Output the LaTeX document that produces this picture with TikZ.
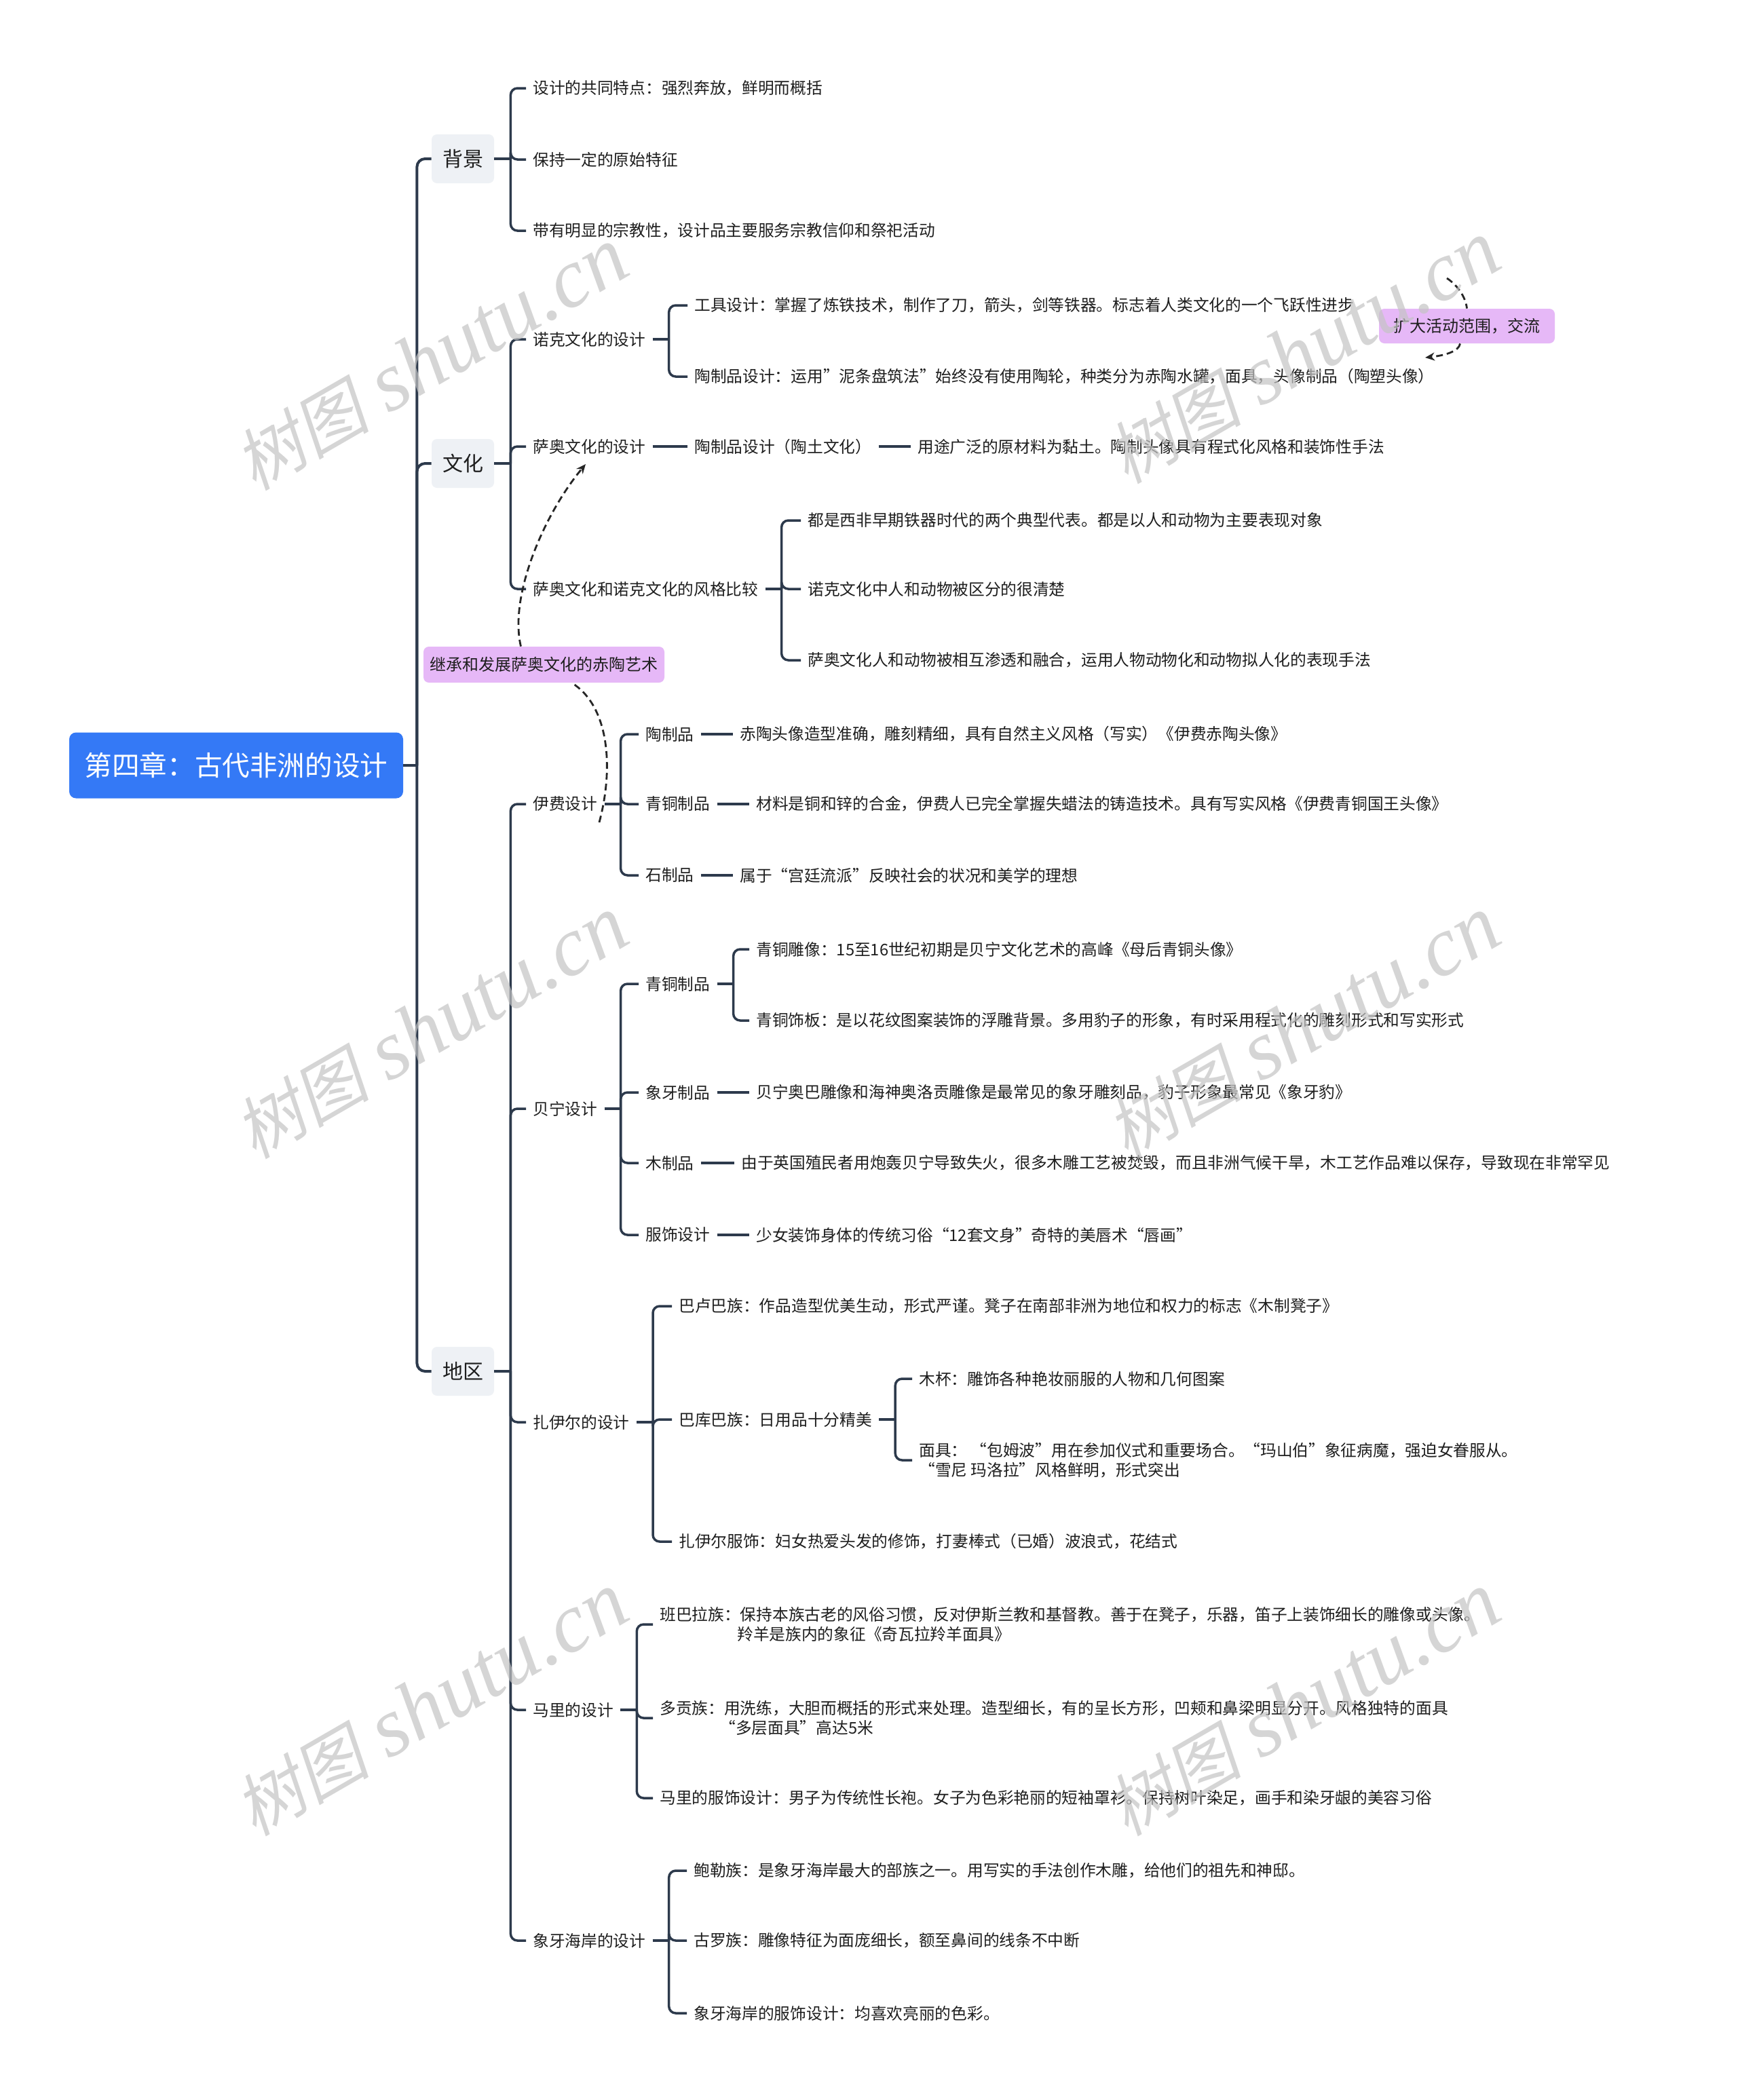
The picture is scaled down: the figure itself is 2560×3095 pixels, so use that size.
\documentclass[tikz,border=0pt]{standalone}
\usepackage{fontspec}
\setmainfont{Noto Sans CJK SC}
\newfontfamily\wmcjk[FakeSlant=0.2]{Noto Sans CJK SC}
\newfontfamily\wmlat{Liberation Serif}
\usetikzlibrary{arrows.meta,calc}
\definecolor{lc}{HTML}{2D3A4C}
\definecolor{rootc}{HTML}{3479F6}
\definecolor{pinkc}{HTML}{E6B8F7}
\definecolor{boxc}{HTML}{EEF1F5}
\definecolor{txtc}{HTML}{1E1E1E}
\definecolor{wmc}{HTML}{C4C4C4}
\tikzset{
 leaf/.style={anchor=west, inner xsep=5pt, inner ysep=3pt, font=\fontsize{11.85}{14.5}\selectfont, text=txtc, align=left},
 mainbox/.style={fill=boxc, rounded corners=4pt, minimum width=46pt, minimum height=36pt, font=\fontsize{15}{18}\selectfont, text=txtc, inner sep=0pt},
 rootbox/.style={fill=rootc, rounded corners=5pt, minimum width=246pt, minimum height=48.5pt, font=\fontsize{20.3}{24}\selectfont, text=white, inner sep=0pt},
 note/.style={fill=pinkc, rounded corners=4pt, font=\fontsize{12}{14}\selectfont, text=txtc, inner sep=0pt},
 conn/.style={draw=lc, line width=1.75pt, rounded corners=5pt},
 trunkln/.style={draw=lc, line width=2pt, rounded corners=6pt},
 rel/.style={draw=black!85, line width=1.4pt, dash pattern=on 5pt off 3pt},
 relarrow/.style={rel, -{Stealth[length=7pt,width=6pt]}},
 wm/.style={text=wmc, opacity=0.7, inner sep=0pt, rotate=30}
}
\newcommand\mybranch[2]{\draw[conn] (#1.east) -- ++(24,0) coordinate (#1j); \foreach \c in {#2} {\draw[conn] (#1j) |- (\c.west);}}
\begin{document}
\begin{tikzpicture}[x=0.5pt,y=-0.5pt]
\fill[white] (0,0) rectangle (2560,3095);
\useasboundingbox (0,0) rectangle (2560,3095);

% root and main topics
\node[rootbox] (root) at (348,1128) {第四章：古代非洲的设计};
\node[mainbox] (bj) at (682,234) {背景};
\node[mainbox] (wh) at (682,683) {文化};
\node[mainbox] (dq) at (682,2021) {地区};

% 背景
\node[leaf] (bj1) at (775,130) {设计的共同特点：强烈奔放，鲜明而概括};
\node[leaf] (bj2) at (775,235) {保持一定的原始特征};
\node[leaf] (bj3) at (775,340) {带有明显的宗教性，设计品主要服务宗教信仰和祭祀活动};

% 文化
\node[leaf] (nk) at (775,500) {诺克文化的设计};
\node[leaf] (sa) at (775,658) {萨奥文化的设计};
\node[leaf] (fg) at (775,868) {萨奥文化和诺克文化的风格比较};
\node[leaf] (nk1) at (1013,450) {工具设计：掌握了炼铁技术，制作了刀，箭头，剑等铁器。标志着人类文化的一个飞跃性进步};
\node[leaf] (nk2) at (1013,555) {陶制品设计：运用”泥条盘筑法”始终没有使用陶轮，种类分为赤陶水罐，面具，头像制品（陶塑头像）};
\node[leaf] (sa1) at (1013,658) {陶制品设计（陶土文化）};
\node[leaf] (sa2) at (1342,658) {用途广泛的原材料为黏土。陶制头像具有程式化风格和装饰性手法};
\node[leaf] (fg1) at (1180,767) {都是西非早期铁器时代的两个典型代表。都是以人和动物为主要表现对象};
\node[leaf] (fg2) at (1180,868) {诺克文化中人和动物被区分的很清楚};
\node[leaf] (fg3) at (1180,973) {萨奥文化人和动物被相互渗透和融合，运用人物动物化和动物拟人化的表现手法};

% 伊费
\node[leaf] (yf) at (775,1185) {伊费设计};
\node[leaf] (yf1) at (941,1082) {陶制品};
\node[leaf] (yf2) at (941,1185) {青铜制品};
\node[leaf] (yf3) at (941,1290) {石制品};
\node[leaf] (yf1a) at (1080,1082) {赤陶头像造型准确，雕刻精细，具有自然主义风格（写实）《伊费赤陶头像》};
\node[leaf] (yf2a) at (1104,1185) {材料是铜和锌的合金，伊费人已完全掌握失蜡法的铸造技术。具有写实风格《伊费青铜国王头像》};
\node[leaf] (yf3a) at (1080,1290) {属于“宫廷流派”反映社会的状况和美学的理想};

% 贝宁
\node[leaf] (bn) at (775,1634) {贝宁设计};
\node[leaf] (bn1) at (941,1450) {青铜制品};
\node[leaf] (bn2) at (941,1610) {象牙制品};
\node[leaf] (bn3) at (941,1714) {木制品};
\node[leaf] (bn4) at (941,1820) {服饰设计};
\node[leaf] (bn1a) at (1104,1399) {青铜雕像：15至16世纪初期是贝宁文化艺术的高峰《母后青铜头像》};
\node[leaf] (bn1b) at (1104,1504) {青铜饰板：是以花纹图案装饰的浮雕背景。多用豹子的形象，有时采用程式化的雕刻形式和写实形式};
\node[leaf] (bn2a) at (1104,1610) {贝宁奥巴雕像和海神奥洛贡雕像是最常见的象牙雕刻品，豹子形象最常见《象牙豹》};
\node[leaf] (bn3a) at (1082,1714) {由于英国殖民者用炮轰贝宁导致失火，很多木雕工艺被焚毁，而且非洲气候干旱，木工艺作品难以保存，导致现在非常罕见};
\node[leaf] (bn4a) at (1104,1820) {少女装饰身体的传统习俗“12套文身”奇特的美唇术“唇画”};

% 扎伊尔
\node[leaf] (zy) at (775,2096) {扎伊尔的设计};
\node[leaf] (zy1) at (990,1925) {巴卢巴族：作品造型优美生动，形式严谨。凳子在南部非洲为地位和权力的标志《木制凳子》};
\node[leaf] (zy2) at (990,2092) {巴库巴族：日用品十分精美};
\node[leaf] (zy3) at (990,2272) {扎伊尔服饰：妇女热爱头发的修饰，打妻棒式（已婚）波浪式，花结式};
\node[leaf] (zy2a) at (1344,2032) {木杯：雕饰各种艳妆丽服的人物和几何图案};
\node[leaf] (zy2b) at (1344,2152) {面具： “包姆波”用在参加仪式和重要场合。“玛山伯”象征病魔，强迫女眷服从。\\“雪尼 玛洛拉”风格鲜明，形式突出};

% 马里
\node[leaf] (ml) at (775,2520) {马里的设计};
\node[leaf] (ml1) at (962,2394) {班巴拉族：保持本族古老的风俗习惯，反对伊斯兰教和基督教。善于在凳子，乐器，笛子上装饰细长的雕像或头像。\\\hspace*{57pt}羚羊是族内的象征《奇瓦拉羚羊面具》};
\node[leaf] (ml2) at (962,2532) {多贡族：用洗练，大胆而概括的形式来处理。造型细长，有的呈长方形，凹颊和鼻梁明显分开。风格独特的面具\\\hspace*{44pt}“多层面具”高达5米};
\node[leaf] (ml3) at (962,2650) {马里的服饰设计：男子为传统性长袍。女子为色彩艳丽的短袖罩衫。保持树叶染足，画手和染牙龈的美容习俗};

% 象牙海岸
\node[leaf] (xy) at (775,2860) {象牙海岸的设计};
\node[leaf] (xy1) at (1012,2757) {鲍勒族：是象牙海岸最大的部族之一。用写实的手法创作木雕，给他们的祖先和神邸。};
\node[leaf] (xy2) at (1012,2860) {古罗族：雕像特征为面庞细长，额至鼻间的线条不中断};
\node[leaf] (xy3) at (1012,2967) {象牙海岸的服饰设计：均喜欢亮丽的色彩。};

% connectors
\draw[trunkln] (root.east) -- ++(20,0) coordinate (rj);
\foreach \c in {bj,wh,dq} {\draw[trunkln] (rj) |- (\c.west);}
\mybranch{bj}{bj1,bj2,bj3}
\mybranch{wh}{nk,sa,fg}
\mybranch{dq}{yf,bn,zy,ml,xy}
\mybranch{nk}{nk1,nk2}
\draw[conn] (sa.east) -- (sa1.west);
\draw[conn] (sa1.east) -- (sa2.west);
\mybranch{fg}{fg1,fg2,fg3}
\mybranch{yf}{yf1,yf2,yf3}
\draw[conn] (yf1.east) -- (yf1a.west);
\draw[conn] (yf2.east) -- (yf2a.west);
\draw[conn] (yf3.east) -- (yf3a.west);
\mybranch{bn}{bn1,bn2,bn3,bn4}
\mybranch{bn1}{bn1a,bn1b}
\draw[conn] (bn2.east) -- (bn2a.west);
\draw[conn] (bn3.east) -- (bn3a.west);
\draw[conn] (bn4.east) -- (bn4a.west);
\mybranch{zy}{zy1,zy2,zy3}
\mybranch{zy2}{zy2a,zy2b}
\mybranch{ml}{ml1,ml2,ml3}
\mybranch{xy}{xy1,xy2,xy3}

% relationships
\node[note, minimum width=129.5pt, minimum height=25.5pt] (kd) at (2161.5,480.5) {扩大活动范围，交流};
\node[note, minimum width=177.5pt, minimum height=26.5pt] (jc) at (801.5,979.5) {继承和发展萨奥文化的赤陶艺术};
\coordinate (r1s) at (2132,410);
\coordinate (r1e) at (2100,527);
\draw[rel] (r1s) .. controls (2150,422) and (2160,440) .. (kd.north);
\draw[relarrow] ($(kd.south)+(-10,0)$) .. controls (2150,518) and (2128,524) .. (r1e);
\coordinate (r2s) at (883,1212);
\coordinate (r2e) at (863,684);
\draw[rel] (r2s) .. controls (905,1130) and (897,1040) .. ($(jc.south)+(41,0)$);
\draw[relarrow] ($(jc.north)+(-34,0)$) .. controls (750,880) and (800,760) .. (r2e);

% watermarks
\foreach \i/\wx/\wy in {1/635/530, 2/1920/520, 3/635/1515, 4/1920/1515, 5/635/2512, 6/1920/2512}
  {\node[wm] (wm\i) at (\wx,\wy) {{\wmcjk\fontsize{50}{52}\selectfont 树图}\hspace{14pt}{\wmlat\itshape\fontsize{62}{64}\selectfont shutu.cn}};}
\end{tikzpicture}
\end{document}
